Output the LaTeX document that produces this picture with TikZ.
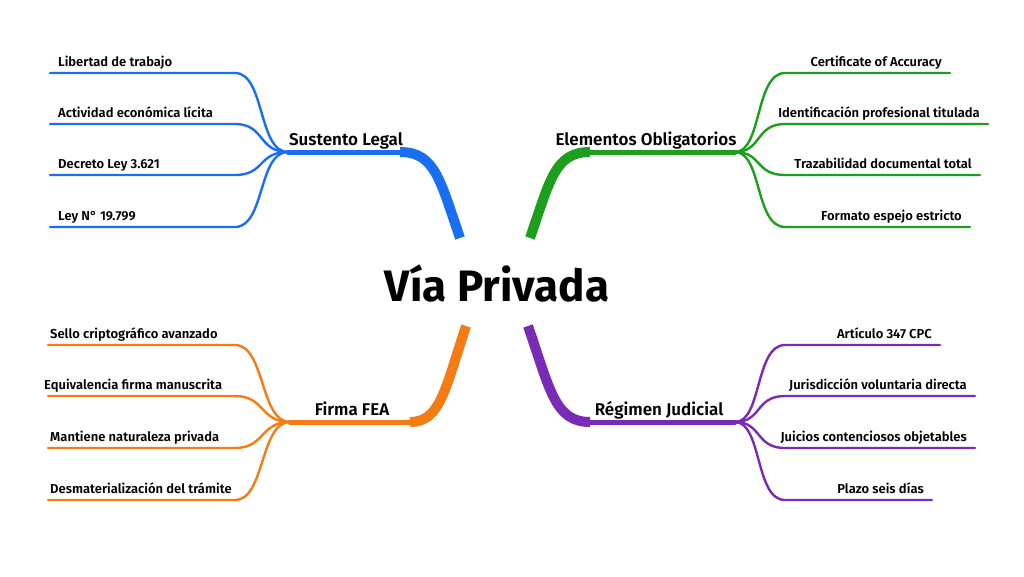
\documentclass[tikz,border=0pt]{standalone}
\usepackage{fontspec}
\setmainfont{Fira Sans}[UprightFont=* SemiBold,BoldFont=* Bold]
\begin{document}
\begin{tikzpicture}[x=1pt,y=-1pt,
  leaf/.style={line width=2.4pt,line cap=round},
  trunk/.style={line width=10pt,line cap=butt},
  mid/.style={line width=5pt,line cap=round},
  lt/.style={font=\fontsize{13}{15}\selectfont,inner sep=0pt,anchor=base west},
  rt/.style={font=\fontsize{13}{15}\selectfont,inner sep=0pt,anchor=base east},
  bt/.style={font=\fontsize{17}{19}\selectfont,inner sep=0pt,anchor=base}]
\definecolor{cb}{HTML}{1A6EF0}\definecolor{cg}{HTML}{1E9E1E}
\definecolor{co}{HTML}{F57C14}\definecolor{cp}{HTML}{7A2BB5}
\useasboundingbox[fill=white] (0,0) rectangle (1024,576);
\node[font=\bfseries\fontsize{44}{48}\selectfont,inner sep=0pt] (c) at (497,283) {Vía Privada};
% blue
\coordinate (bh) at (288,152);
\draw[cb,mid] (400,152) -- (bh);
\draw[cb,trunk] (460,238) .. controls (440,180) and (435,152) .. (400,152);
\node[bt] (bl) at (346,145) {Sustento Legal};
\foreach \y/\t in {73/Libertad de trabajo,124/Actividad económica lícita,175/Decreto Ley 3.621,227/Ley N° 19.799}{
  \draw[cb,leaf] (50,\y) -- (235,\y) .. controls (265,\y) and (258,152) .. (bh);
  \node[lt] at (58,\y-7) {\t};}
% green
\coordinate (gh) at (735,152);
\draw[cg,mid] (590,152) -- (gh);
\draw[cg,trunk] (530,238) .. controls (550,180) and (555,152) .. (590,152);
\node[bt] (gl) at (646,145) {Elementos Obligatorios};
\foreach \y/\e/\t in {73/950/Certificate of Accuracy,124/988/Identificación profesional titulada,175/980/Trazabilidad documental total,227/970/Formato espejo estricto}{
  \draw[cg,leaf] (gh) .. controls (762,152) and (755,\y) .. (785,\y) -- (\e,\y);
  \node[rt] at (\e-8,\y-7) {\t};}
% orange
\coordinate (oh) at (290,422);
\draw[co,mid] (410,422) -- (oh);
\draw[co,trunk] (466,326) .. controls (445,390) and (440,422) .. (410,422);
\node[bt] (ol) at (352,415) {Firma FEA};
\foreach \y/\t in {345/Sello criptográfico avanzado,396/Equivalencia firma manuscrita,448/Mantiene naturaleza privada,500/Desmaterialización del trámite}{
  \draw[co,leaf] (48,\y) -- (235,\y) .. controls (265,\y) and (260,422) .. (oh);
  \node[lt] at (\ifnum\y=396 44\else 50\fi,\y-7) {\t};}
% purple
\coordinate (ph) at (735,422);
\draw[cp,mid] (590,422) -- (ph);
\draw[cp,trunk] (528,326) .. controls (550,390) and (555,422) .. (590,422);
\node[bt] (pl) at (659,415) {Régimen Judicial};
\foreach \y/\e/\t in {345/940/Artículo 347 CPC,396/975/Jurisdicción voluntaria directa,448/975/Juicios contenciosos objetables,500/932/Plazo seis días}{
  \draw[cp,leaf] (ph) .. controls (762,422) and (755,\y) .. (785,\y) -- (\e,\y);
  \node[rt] at (\e-8,\y-7) {\t};}
\end{tikzpicture}
\end{document}
